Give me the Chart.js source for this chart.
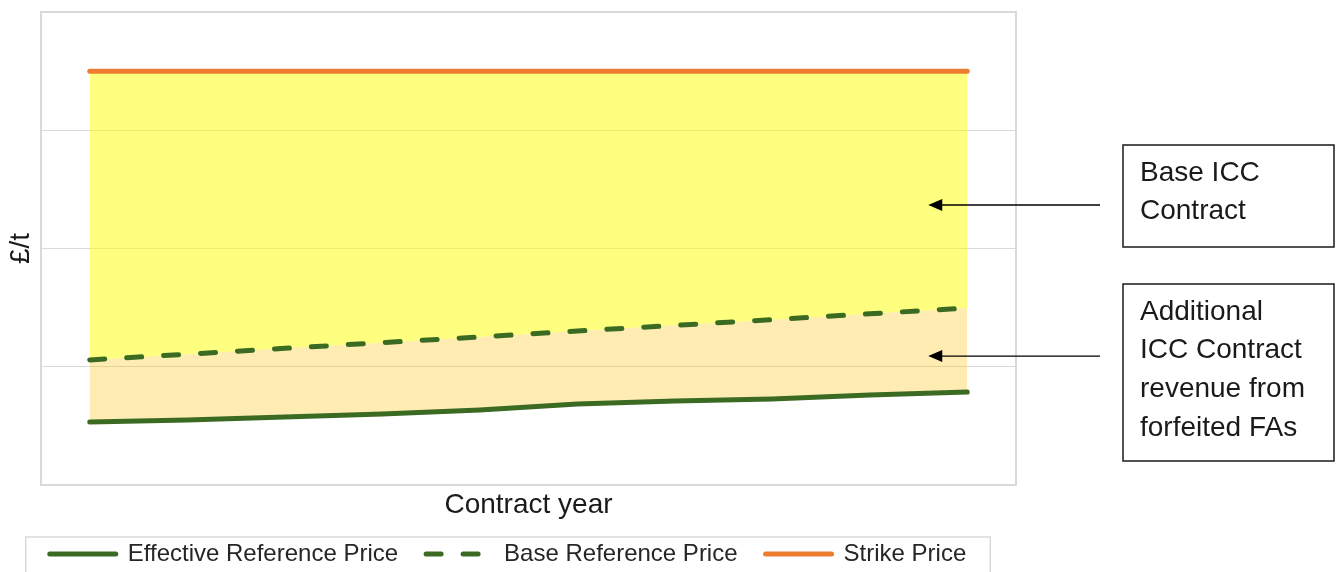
<!DOCTYPE html>
<html>
<head>
<meta charset="utf-8">
<script src="https://cdn.jsdelivr.net/npm/chart.js@4/dist/chart.umd.min.js"></script>
<style>
  body { margin: 0; background: #fff; }
  .wrap { position: relative; width: 1338px; height: 572px; }
</style>
</head>
<body>
<div class="wrap"><canvas id="iccChart"></canvas></div>
<script>
// values (axis has no printed ticks, 0-200 scale)
const years = ['1', '2', '3', '4', '5', '6', '7', '8', '9', '10'];
const effectivePrice = [26.6, 27.5, 28.8, 30.0, 31.7, 34.2, 35.5, 36.4, 38.1, 39.3];
const basePrice = [52.9, 55.3, 57.8, 60.2, 62.6, 65.1, 67.5, 69.9, 72.4, 74.8];
const strikePrice = [175, 175, 175, 175, 175, 175, 175, 175, 175, 175];
const yTicks = [0, 50, 100, 150, 200];

const green = '#3b6b23';
const orange = '#ed7d31';
const gridGrey = '#d9d9d9';
const font = "'Liberation Sans', Arial, sans-serif";

// frame round plot, box round legend, and the two call-outs on the right
const extras = {
    id: 'extras',
    afterDraw(chart) {
        const ctx = chart.ctx;
        const a = chart.chartArea;
        ctx.save();
        ctx.strokeStyle = gridGrey;
        ctx.lineWidth = 2;
        ctx.strokeRect(a.left, a.top, a.right - a.left, a.bottom - a.top);

        const hits = chart.legend.legendHitBoxes;
        if (hits.length) {
            const first = hits[0], last = hits[hits.length - 1];
            ctx.lineWidth = 1.5;
            ctx.strokeRect(first.left - 24, first.top - 5, (last.left + last.width + 24) - (first.left - 24), 60);
        }

        const xs = chart.scales.x, ys = chart.scales.y;
        const tipX = xs.getPixelForValue(8.6);
        const arrows = [ys.getPixelForValue(118.4), ys.getPixelForValue(54.5)];
        ctx.strokeStyle = '#000';
        ctx.fillStyle = '#000';
        ctx.lineWidth = 1.3;
        arrows.forEach(y => {
            ctx.beginPath();
            ctx.moveTo(1100, y);
            ctx.lineTo(tipX + 10, y);
            ctx.stroke();
            ctx.beginPath();
            ctx.moveTo(tipX, y);
            ctx.lineTo(tipX + 14, y - 6);
            ctx.lineTo(tipX + 14, y + 6);
            ctx.closePath();
            ctx.fill();
        });

        const boxes = [
            { top: 145, bottom: 247, lines: ['Base ICC', 'Contract'], first: 173 },
            { top: 284, bottom: 461, lines: ['Additional', 'ICC Contract', 'revenue from', 'forfeited FAs'], first: 312 }
        ];
        ctx.strokeStyle = '#1a1a1a';
        ctx.lineWidth = 1.5;
        ctx.font = '28px ' + font;
        ctx.textBaseline = 'middle';
        ctx.fillStyle = '#1a1a1a';
        boxes.forEach(b => {
            ctx.strokeRect(1123, b.top, 211, b.bottom - b.top);
            b.lines.forEach((t, i) => ctx.fillText(t, 1140, b.first + i * 38.7));
        });
        ctx.restore();
    }
};

new Chart(document.getElementById('iccChart'), {
    type: 'line',
    data: {
        labels: years,
        datasets: [
            {
                label: 'Effective Reference Price',
                data: effectivePrice,
                borderColor: green,
                borderWidth: 5,
                borderCapStyle: 'round',
                pointRadius: 0,
                fill: false
            },
            {
                label: 'Base Reference Price',
                data: basePrice,
                borderColor: green,
                borderWidth: 5,
                borderDash: [15, 22],
                borderCapStyle: 'round',
                pointRadius: 0,
                fill: 0,
                backgroundColor: 'rgba(255, 192, 0, 0.3)'
            },
            {
                label: 'Strike Price',
                data: strikePrice,
                borderColor: orange,
                borderWidth: 5,
                borderCapStyle: 'round',
                pointRadius: 0,
                fill: 1,
                backgroundColor: 'rgba(255, 255, 0, 0.5)'
            }
        ]
    },
    options: {
        responsive: true,
        maintainAspectRatio: false,
        animation: false,
        layout: { padding: { left: 0, top: 12, right: 322, bottom: -4 } },
        plugins: {
            tooltip: { enabled: false },
            legend: {
                position: 'bottom',
                labels: {
                    usePointStyle: true,
                    pointStyle: 'line',
                    pointStyleWidth: 66,
                    padding: 28,
                    color: '#262626',
                    font: { family: font, size: 24 },
                    // point style drops the dataset dash, so put it back
                    generateLabels: chart => {
                        const items = Chart.defaults.plugins.legend.labels.generateLabels(chart);
                        items.forEach(it => {
                            const ds = chart.data.datasets[it.datasetIndex];
                            it.lineDash = ds.borderDash || [];
                            it.lineCap = 'round';
                        });
                        return items;
                    }
                }
            }
        },
        scales: {
            x: {
                offset: true,
                grid: { display: false, drawTicks: false },
                border: { display: false },
                ticks: { display: false },
                title: {
                    display: true,
                    text: 'Contract year',
                    color: '#1a1a1a',
                    font: { family: font, size: 28 },
                    padding: { top: 0, bottom: -8 }
                },
                afterFit: s => { s.height = 29; }
            },
            y: {
                min: yTicks[0],
                max: yTicks[yTicks.length - 1],
                afterBuildTicks: s => { s.ticks = yTicks.map(v => ({ value: v })); },
                grid: { color: gridGrey, lineWidth: 1, drawTicks: false },
                border: { display: false },
                ticks: { display: false },
                title: {
                    display: true,
                    text: '£/t',
                    color: '#1a1a1a',
                    font: { family: font, size: 28 },
                    padding: { top: 4, bottom: 0 }
                },
                afterFit: s => { s.width = 41; }
            }
        }
    },
    plugins: [extras]
});
</script>
</body>
</html>
